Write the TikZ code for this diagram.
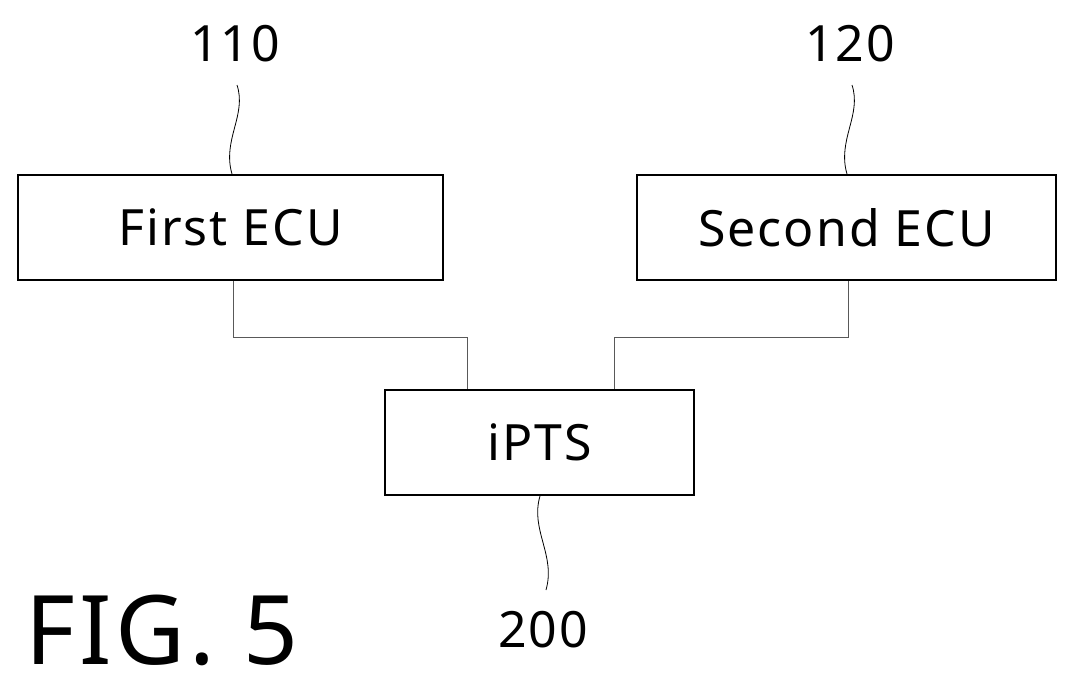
\documentclass[tikz,border=0pt]{standalone}
\usepackage{fontspec}
\setmainfont{Noto Sans}[LetterSpace=4]
\begin{document}
\begin{tikzpicture}[x=1pt,y=-1pt,
  box/.style={draw,line width=2pt,inner sep=0pt,font=\fontsize{50}{60}\selectfont},
  wire/.style={line width=0.8pt,gray!70!black},
  lead/.style={line width=0.8pt},
  num/.style={font=\fontsize{50}{58}\selectfont,inner sep=0pt}]
\useasboundingbox (0,0) rectangle (1080,694);
\node[box,minimum width=425pt,minimum height=105pt] (e1) at (230.5,227.5) {First ECU};
\node[box,minimum width=419pt,minimum height=105pt] (e2) at (846.5,227.5) {Second ECU};
\node[box,minimum width=309pt,minimum height=105pt] (ip) at (539.5,442.5) {iPTS};
\coordinate (a1) at (233,337); \coordinate (a2) at (467,337);
\coordinate (b1) at (848,337); \coordinate (b2) at (614,337);
\draw[wire] (e1.south -| a1) -- (a1) -- (a2) -- (ip.north -| a2);
\draw[wire] (e2.south -| b1) -- (b1) -- (b2) -- (ip.north -| b2);
\node[num] (n110) at (235,44) {110};
\node[num] (n120) at (850,44) {120};
\node[num] (n200) at (543,630) {200};
\coordinate (s1) at (237,85); \coordinate (s2) at (852,85); \coordinate (s3) at (546,590);
\draw[lead] (s1) .. controls (247,115) and (222,140) .. (e1.north -| 232,0);
\draw[lead] (s2) .. controls (862,115) and (837,140) .. (e2.north -| 847,0);
\draw[lead] (ip.south -| 540,0) .. controls (530,530) and (556,555) .. (s3);
\node[font=\fontsize{96}{106}\selectfont,inner sep=0pt] (fig) at (162,630) {FIG. 5};
\end{tikzpicture}
\end{document}
